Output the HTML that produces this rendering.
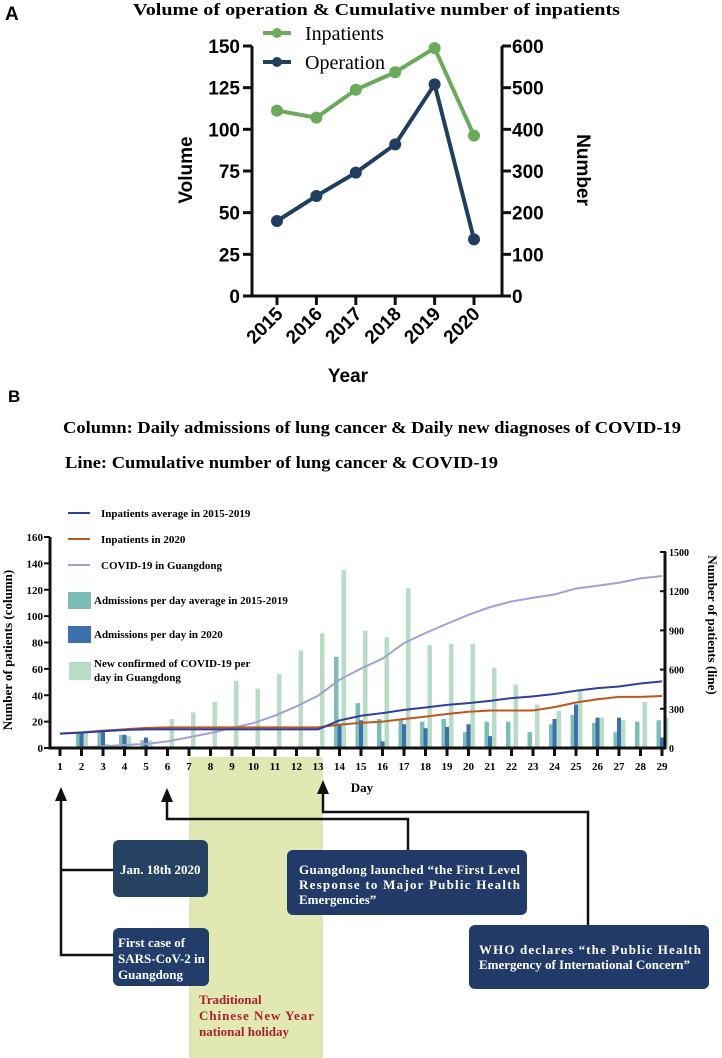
<!DOCTYPE html>
<html><head><meta charset="utf-8"><style>
html,body{margin:0;padding:0;background:#fff;}
svg{display:block;}
.ser{font-family:"Liberation Serif",serif;}
.san{font-family:"Liberation Sans",sans-serif;}
</style></head><body>
<svg id="fig" width="722" height="1058" viewBox="0 0 722 1058" xmlns="http://www.w3.org/2000/svg">
<g id="partA">
<text x="5" y="20" class="san" font-weight="bold" font-size="19">A</text>
<text x="133" y="15" class="ser" font-weight="bold" font-size="17" textLength="487" lengthAdjust="spacingAndGlyphs">Volume of operation &amp; Cumulative number of inpatients</text>
<text transform="translate(192,170) rotate(-90)" text-anchor="middle" class="san" font-weight="bold" font-size="19">Volume</text>
<text transform="translate(577,170) rotate(90)" text-anchor="middle" class="san" font-weight="bold" font-size="19">Number</text>
<text x="348" y="382" text-anchor="middle" class="san" font-weight="bold" font-size="19">Year</text>
<line x1="263" y1="33" x2="291" y2="33" stroke="#6aaa5a" stroke-width="4"/>
<circle cx="277" cy="33" r="5" fill="#6aaa5a"/>
<text x="305" y="40" class="ser" font-size="20">Inpatients</text>
<line x1="263" y1="62" x2="291" y2="62" stroke="#1f3e60" stroke-width="4"/>
<circle cx="277" cy="62" r="5" fill="#1f3e60"/>
<text x="305" y="69" class="ser" font-size="20">Operation</text>
</g>
<g id="partB">
<text x="8" y="402" class="san" font-weight="bold" font-size="17">B</text>
<text x="63" y="433" class="ser" font-weight="bold" font-size="17" textLength="618" lengthAdjust="spacingAndGlyphs">Column: Daily admissions of lung cancer &amp; Daily new diagnoses of COVID-19</text>
<text x="65" y="468" class="ser" font-weight="bold" font-size="17" textLength="433" lengthAdjust="spacingAndGlyphs">Line: Cumulative number of lung cancer &amp; COVID-19</text>
<rect x="189" y="757" width="134" height="301" fill="#e2e8b3"/>
<text class="ser" font-weight="bold" font-size="13" fill="#a8232a"><tspan x="199" y="1004">Traditional</tspan><tspan x="199" y="1020" textLength="115" lengthAdjust="spacing">Chinese New Year</tspan><tspan x="199" y="1036">national holiday</tspan></text>
</g>
</svg>
<script>
// ---------- Chart A data ----------
const years = ['2015','2016','2017','2018','2019','2020'];
const operationVals = [45, 60, 74, 91, 127, 34];
const inpatientVals = [445, 428, 495, 537, 595, 385];
const leftTicksA = [0,25,50,75,100,125,150];
const rightTicksA = [0,100,200,300,400,500,600];

// ---------- Chart B data ----------
const days = [1,2,3,4,5,6,7,8,9,10,11,12,13,14,15,16,17,18,19,20,21,22,23,24,25,26,27,28,29];
const avgAdmissions = [0,12,13,10,6,0,0,0,0,0,0,0,0,69,34,22,22,20,22,12,20,20,12,18,25,19,12,20,21];
const admissions2020 = [0,11,12,10,8,0,0,0,0,1,0,0,0,18,21,5,18,15,16,18,9,1,0,22,33,23,23,0,8];
const covidNew = [0,13,3,9,6,22,27,35,51,45,56,74,87,135,89,84,121,78,79,79,61,48,33,28,44,23,21,35,23];
const inpatientsAvg = [110,118,128,138,143,143,143,143,143,143,143,143,143,211,247,267,292,310,330,343,361,382,395,413,438,458,471,494,510];
const inpatients2020 = [110,120,133,143,153,158,158,158,158,158,158,158,158,179,192,202,222,240,260,277,287,287,287,313,348,373,391,391,398];
const covidCum = [0,5,13,23,31,51,82,115,153,191,247,319,400,522,608,684,803,880,951,1019,1078,1121,1150,1175,1221,1242,1265,1298,1316];
const leftTicksB = [0,20,40,60,80,100,120,140,160];
const rightTicksB = [0,300,600,900,1200,1500];

const NS = 'http://www.w3.org/2000/svg';
const svg = document.getElementById('fig');
const gA = document.getElementById('partA');
const gB = document.getElementById('partB');
function mk(tag, attrs, parent) {
  const e = document.createElementNS(NS, tag);
  for (const k in attrs) e.setAttribute(k, attrs[k]);
  parent.appendChild(e);
  return e;
}

// ---------- Chart A ----------
const ax = {x0:252, x1:502, y0:296, y1:46};
const xA = i => 277 + i * 39.4;
const yL = v => ax.y0 - (v / 150) * (ax.y0 - ax.y1);
const yR = v => ax.y0 - (v / 600) * (ax.y0 - ax.y1);
let e;
e = mk('path', {d:`M${ax.x0},${ax.y1} V${ax.y0} H${ax.x1} V${ax.y1}`, fill:'none', stroke:'#111', 'stroke-width':3}, gA);


leftTicksA.forEach(t => {
  const y = yL(t);
  e = mk('line', {x1:ax.x0-9, x2:ax.x0, y1:y, y2:y, stroke:'#111', 'stroke-width':3}, gA);
  
  
  e = mk('text', {x:ax.x0-12, y:y+7, 'text-anchor':'end', class:'san', 'font-weight':'bold', 'font-size':19}, gA);
  e.textContent = t;
  
  
});
rightTicksA.forEach(t => {
  const y = yR(t);
  e = mk('line', {x1:ax.x1, x2:ax.x1+9, y1:y, y2:y, stroke:'#111', 'stroke-width':3}, gA);
  
  
  e = mk('text', {x:ax.x1+10, y:y+7, class:'san', 'font-weight':'bold', 'font-size':19}, gA);
  e.textContent = t;
  
  
});
years.forEach((yr, i) => {
  const x = xA(i);
  e = mk('line', {x1:x, x2:x, y1:ax.y0, y2:ax.y0+9, stroke:'#111', 'stroke-width':3}, gA);
  
  
  e = mk('text', {transform:`translate(${x+7},${ax.y0+19}) rotate(-45)`, 'text-anchor':'end', class:'san', 'font-weight':'bold', 'font-size':19}, gA);
  e.textContent = yr;
  
  
});
function seriesA(vals, yf, color, name) {
  e = mk('polyline', {points: vals.map((v,i)=>`${xA(i)},${yf(v)}`).join(' '), fill:'none', stroke:color, 'stroke-width':4}, gA);
  
  
  vals.forEach((v,i) => {
    e = mk('circle', {cx:xA(i), cy:yf(v), r:6, fill:color}, gA);
    
    
  });
}
seriesA(inpatientVals, yR, '#6aaa5a', 'inpatients');
seriesA(operationVals, yL, '#1f3e60', 'operation');

// ---------- Chart B ----------
const bx = {x0:50, x1:665, y0:748};
const xB = d => 60 + (d - 1) * 21.5;
const yBL = v => bx.y0 - v * (211 / 160);
const yBR = v => bx.y0 - v * (196 / 1500);
const bars = mk('g', {}, gB);


days.forEach((d, i) => {
  const x = xB(d);
  function bar(v, dx, w, c, n) {
    if (v <= 0) return;
    const r = mk('rect', {x:x+dx, y:yBL(v), width:w, height:bx.y0 - yBL(v), fill:c}, bars);
    
    
  }
  bar(covidNew[i], 2, 4.5, '#b9dcc6', 'bar-covid-new');
  bar(avgAdmissions[i], -5.5, 4.5, '#7cbdb5', 'bar-admissions-avg');
  bar(admissions2020[i], -2, 4, '#3b70ad', 'bar-admissions-2020');
});
function lineB(vals, color, name) {
  e = mk('polyline', {points: vals.map((v,i)=>`${xB(days[i])},${yBR(v)}`).join(' '), fill:'none', stroke:color, 'stroke-width':2}, gB);
  
  
}
lineB(covidCum, '#9ea2d9', 'line-covid-cumulative');
lineB(inpatients2020, '#c0561e', 'line-inpatients-2020');
lineB(inpatientsAvg, '#2e3f9e', 'line-inpatients-average');

e = mk('path', {d:`M${bx.x0},537 V${bx.y0} H${bx.x1} V552`, fill:'none', stroke:'#111', 'stroke-width':3}, gB);


leftTicksB.forEach(t => {
  const y = yBL(t);
  e = mk('line', {x1:bx.x0-6, x2:bx.x0, y1:y, y2:y, stroke:'#111', 'stroke-width':2}, gB);
  
  
  e = mk('text', {x:bx.x0-7, y:y+4, 'text-anchor':'end', class:'ser', 'font-weight':'bold', 'font-size':11}, gB);
  e.textContent = t;
  
  
});
rightTicksB.forEach(t => {
  const y = yBR(t);
  e = mk('line', {x1:bx.x1-5, x2:bx.x1+1, y1:y, y2:y, stroke:'#111', 'stroke-width':2}, gB);
  
  
  e = mk('text', {x:bx.x1+4, y:y+4, class:'ser', 'font-weight':'bold', 'font-size':10}, gB);
  e.textContent = t;
  
  
});
days.forEach(d => {
  const x = xB(d);
  e = mk('line', {x1:x, x2:x, y1:bx.y0, y2:bx.y0+8, stroke:'#111', 'stroke-width':3}, gB);
  
  
  e = mk('text', {x:x, y:bx.y0+22, 'text-anchor':'middle', class:'ser', 'font-weight':'bold', 'font-size':11}, gB);
  e.textContent = d;
  
  
});
e = mk('text', {x:362, y:792, 'text-anchor':'middle', class:'ser', 'font-weight':'bold', 'font-size':13}, gB);
e.textContent = 'Day';


e = mk('text', {transform:'translate(12,650) rotate(-90)', 'text-anchor':'middle', class:'ser', 'font-weight':'bold', 'font-size':13}, gB);
e.textContent = 'Number of patients (column)';


e = mk('text', {transform:'translate(708,625) rotate(90)', 'text-anchor':'middle', class:'ser', 'font-weight':'bold', 'font-size':13}, gB);
e.textContent = 'Number of patients (line)';



// legend B
const legLines = [['Inpatients average in 2015-2019','#2e3f9e',513],['Inpatients in 2020','#c0561e',539],['COVID-19 in Guangdong','#9ea2d9',565]];
legLines.forEach(l => {
  e = mk('line', {x1:68, x2:90, y1:l[2], y2:l[2], stroke:l[1], 'stroke-width':2}, gB);
  
  
  e = mk('text', {x:101, y:l[2]+4, class:'ser', 'font-weight':'bold', 'font-size':11}, gB);
  e.textContent = l[0];
  
  
});
const legBoxes = [['Admissions per day average in 2015-2019','#7cbdb5',592],['Admissions per day in 2020','#3b70ad',626]];
legBoxes.forEach(l => {
  e = mk('rect', {x:68, y:l[2], width:23, height:17, fill:l[1]}, gB);
  
  
  e = mk('text', {x:94, y:l[2]+12, class:'ser', 'font-weight':'bold', 'font-size':11}, gB);
  e.textContent = l[0];
  
  
});
e = mk('rect', {x:69, y:662, width:22, height:18, fill:'#b9dcc6'}, gB);


e = mk('text', {x:94, y:667, class:'ser', 'font-weight':'bold', 'font-size':11}, gB);
e.textContent = 'New confirmed of COVID-19 per';


e = mk('text', {x:94, y:681, class:'ser', 'font-weight':'bold', 'font-size':11}, gB);
e.textContent = 'day in Guangdong';



// annotations
const conn = [
  `M61,792 V955 H114 M61,870 H114`,
  `M167,793 V819 H408 V850`,
  `M323,785 V812 H588 V925`
];
conn.forEach(p => {
  e = mk('path', {d:p, fill:'none', stroke:'#111', 'stroke-width':2.5}, gB);
  
  
});
[[61,787],[167,788],[323,780]].forEach(a => {
  e = mk('polygon', {points:`${a[0]},${a[1]} ${a[0]-6},${a[1]+14} ${a[0]+6},${a[1]+14}`, fill:'#111'}, gB);
  
  
});
const boxes = [
  [113,840,95,57,'#254263',[['Jan. 18th 2020',120,874]],'box-jan-18'],
  [113,928,96,58,'#223d6a',[['First case of',118,947],['SARS-CoV-2 in',118,963],['Guangdong',118,979]],'box-first-case'],
  [287,850,240,65,'#223a68',[['Guangdong launched “the First Level',299,874,221],['Response to Major Public Health',299,889,221],['Emergencies”',299,904]],'box-first-level-response'],
  [469,925,240,64,'#223a68',[['WHO declares “the Public Health',479,954,222],['Emergency of International Concern”',479,969,211]],'box-who-declaration']
];
boxes.forEach(b => {
  e = mk('rect', {x:b[0], y:b[1], width:b[2], height:b[3], rx:6, fill:b[4]}, gB);
  
  
  b[5].forEach(t => {
    const at = {x:t[1], y:t[2], class:'ser', 'font-weight':'bold', 'font-size':13, fill:'#fff'};
    if (t[3]) { at.textLength = t[3]; at.lengthAdjust = 'spacing'; }
    e = mk('text', at, gB);
    e.textContent = t[0];
    
    
  });
});
</script>
</body></html>
